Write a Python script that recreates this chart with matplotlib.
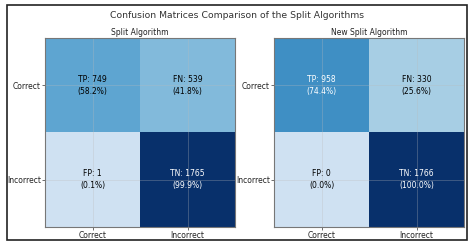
import numpy as np
import matplotlib
matplotlib.use("Agg")
import matplotlib.pyplot as plt
from matplotlib.colors import LinearSegmentedColormap
from matplotlib.patches import Rectangle

title = "Confusion Matrices Comparison of the Split Algorithms"
subtitles = ["Split Algorithm", "New Split Algorithm"]
class_labels = ["Correct", "Incorrect"]
cell_names = [["TP", "FN"], ["FP", "TN"]]
cm_split = [[749, 539], [1, 1765]]
cm_new = [[958, 330], [0, 1766]]

base = plt.get_cmap("Blues")
cmap = LinearSegmentedColormap.from_list("tb", base(np.linspace(0.2, 1.0, 256)))

fig = plt.figure(figsize=(4.74, 2.46), dpi=100)
W, H = 474, 246
fig.patches.append(Rectangle((7 / W, 1 - 240 / H), 460 / W, 235 / H,
                             transform=fig.transFigure, fill=False,
                             edgecolor="#222222", linewidth=1.2))
fig.text(0.5, 1 - 15 / H, title, ha="center", va="center", fontsize=6.7, color="#333333")

fs = 5.5
boxes = [(45, 38, 190, 189), (274, 38, 190, 189)]
for (x0, y0, w, h), cm, sub in zip(boxes, [cm_split, cm_new], subtitles):
    ax = fig.add_axes([x0 / W, 1 - (y0 + h) / H, w / W, h / H])
    m = np.array(cm, dtype=float)
    ax.imshow(m, cmap=cmap, vmin=0, vmax=m.max(), aspect="auto")
    rows = m.sum(axis=1, keepdims=True)
    pct = m / rows * 100
    thr = m.max() / 2
    for i in range(2):
        for j in range(2):
            col = "white" if m[i, j] > thr else "black"
            ax.text(j, i, f"{cell_names[i][j]}: {int(m[i, j])}\n({pct[i, j]:.1f}%)",
                    ha="center", va="center", fontsize=fs, color=col, linespacing=1.45)
    ax.set_xticks([0, 1])
    ax.set_yticks([0, 1])
    ax.set_xticklabels(class_labels, fontsize=fs, color="#222222")
    ax.set_yticklabels(class_labels, fontsize=fs, color="#222222")
    ax.tick_params(length=2, width=0.6, pad=1, colors="#555555", labelcolor="#222222")
    ax.grid(True, color="#bbbbbb", alpha=0.35, linewidth=0.6)
    for s in ax.spines.values():
        s.set_color("#777777")
        s.set_linewidth(0.8)
    ax.set_title(sub, fontsize=fs, pad=2, color="#222222")

fig.savefig("out.png", dpi=100)
